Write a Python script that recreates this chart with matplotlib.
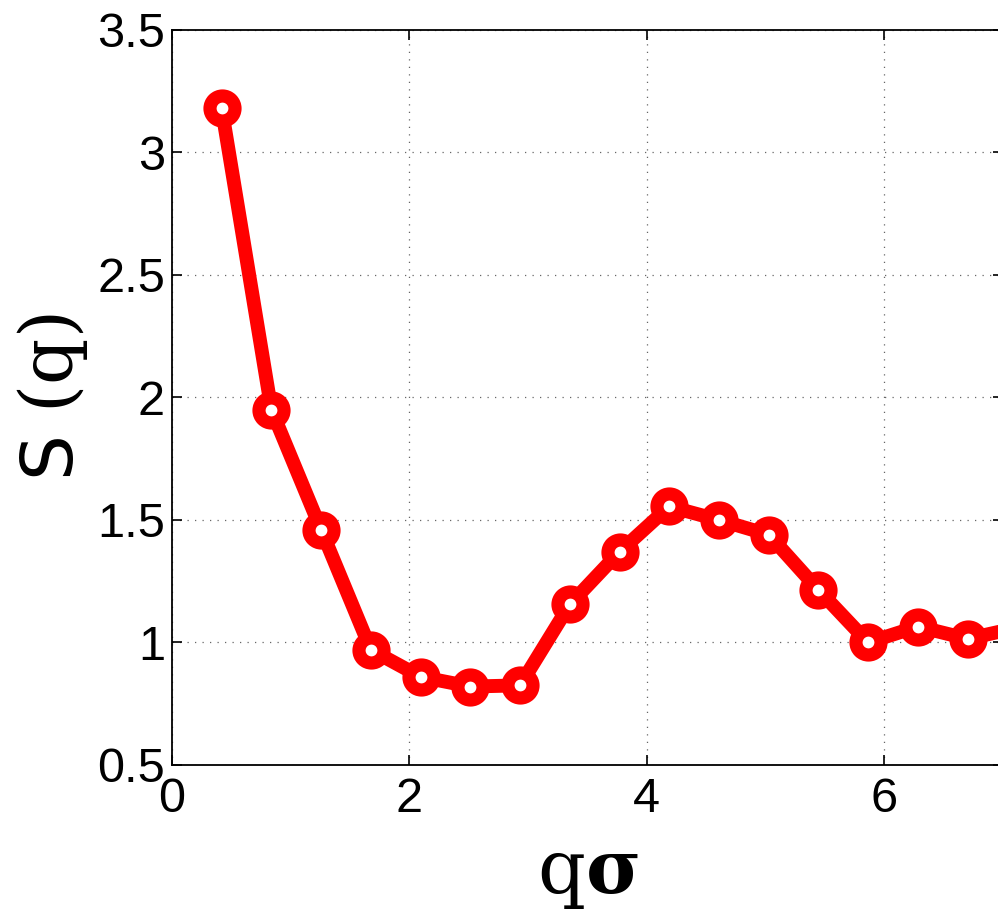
import matplotlib
matplotlib.use('Agg')
import matplotlib.pyplot as plt

# structure factor vs q*sigma
qs = [0.419, 0.838, 1.257, 1.676, 2.094, 2.513, 2.932, 3.351, 3.770,
      4.189, 4.608, 5.027, 5.445, 5.864, 6.283, 6.702, 7.121]
sq = [3.18, 1.95, 1.46, 0.97, 0.86, 0.82, 0.825, 1.155, 1.37,
      1.555, 1.50, 1.44, 1.215, 1.0, 1.065, 1.015, 1.06]

xticks = [0, 2, 4, 6]
yticks = [0.5, 1, 1.5, 2, 2.5, 3, 3.5]

plt.rcParams['font.family'] = ['Liberation Sans', 'DejaVu Sans']
plt.rcParams['mathtext.fontset'] = 'dejavuserif'

fig = plt.figure(figsize=(9.98, 9.11), dpi=100)
ax = fig.add_axes([0.1723, 0.1603, 0.8327, 0.8068])

ax.plot(qs, sq, '-o', color='#ff0000', lw=10, ms=18, mew=9.5,
        mfc='white', mec='#ff0000', clip_on=True)

ax.set_xlim(0, 7)
ax.set_ylim(0.5, 3.5)
ax.set_xticks(xticks)
ax.set_yticks(yticks)
ax.set_yticklabels(['0.5', '1', '1.5', '2', '2.5', '3', '3.5'])
ax.tick_params(direction='in', length=7, width=1.2, labelsize=35,
               top=True, right=True)
ax.tick_params(axis='y', pad=5)
ax.tick_params(axis='x', pad=9)
ax.grid(True, linestyle=(0, (1, 5)), color='#666666', lw=0.9)
for s in ax.spines.values():
    s.set_linewidth(1.3)

ax.set_xlabel(r'$\mathrm{q}\mathbf{\sigma}$', fontsize=54, labelpad=14)
ax.set_ylabel(r'$\mathsf{S}\ (\mathrm{q})$', fontsize=52, labelpad=5)

fig.savefig('out.png', dpi=100)
